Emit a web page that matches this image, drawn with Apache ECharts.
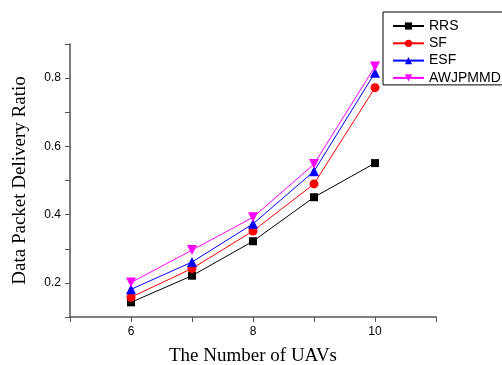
<!DOCTYPE html>
<html><head><meta charset="utf-8">
<script src="https://cdn.jsdelivr.net/npm/echarts@6/dist/echarts.min.js"></script>
<style>html,body{margin:0;padding:0;background:#fff}#c{width:502px;height:365px}</style>
</head><body><div id="c"></div>
<script>
const uavs = [6, 7, 8, 9, 10];
const rrs = [0.143, 0.221, 0.322, 0.451, 0.551];
const sf = [0.158, 0.242, 0.352, 0.490, 0.772];
const esf = [0.181, 0.261, 0.373, 0.527, 0.816];
const awjpmmd = [0.201, 0.296, 0.392, 0.548, 0.834];
const seriesNames = ['RRS', 'SF', 'ESF', 'AWJPMMD'];
const xLabels = [6, 8, 10];
const yLabels = [0.2, 0.4, 0.6, 0.8];

const pair = arr => uavs.map((x, i) => [x, arr[i]]);
const chart = echarts.init(document.getElementById('c'), null, {renderer: 'canvas'});
const axisColor = '#555';
function mk(name, data, color, symbol, size, rot) {
  return {name, type: 'line', data: pair(data), symbol, symbolSize: size, symbolRotate: rot || 0,
    lineStyle: {color, width: 1}, itemStyle: {color}, showSymbol: true, animation: false};
}
chart.setOption({
  animation: false,
  grid: {left: 70, top: 44, right: 66, bottom: 48, containLabel: false, outerBoundsMode: 'none'},
  legend: {
    orient: 'vertical', left: 383, top: 12, padding: [7, 2, 0, 9],
    borderColor: '#000', borderWidth: 1, itemWidth: 31, itemHeight: 9, itemGap: 3.3,
    textStyle: {fontFamily: 'Liberation Sans, Arial', fontSize: 14, color: '#000', lineHeight: 14},
    data: seriesNames
  },
  xAxis: {
    type: 'value', min: 5, max: 11, interval: 1,
    name: 'The Number of UAVs', nameLocation: 'middle', nameGap: 30,
    nameTextStyle: {fontFamily: 'Liberation Serif, Times New Roman', fontSize: 19, color: '#000'},
    axisLine: {lineStyle: {color: axisColor, width: 1.5}},
    axisTick: {show: true, length: 5, inside: false, lineStyle: {color: axisColor}},
    splitLine: {show: false},
    axisLabel: {fontFamily: 'Liberation Sans, Arial', fontSize: 12, color: '#000', margin: 9,
      formatter: v => xLabels.includes(Math.round(v)) ? String(Math.round(v)) : ''}
  },
  yAxis: {
    type: 'value', min: 0.1, max: 0.9, interval: 0.1,
    name: 'Data Packet Delivery Ratio', nameLocation: 'middle', nameGap: 40,
    nameTextStyle: {fontFamily: 'Liberation Serif, Times New Roman', fontSize: 19, color: '#000'},
    axisLine: {show: true, lineStyle: {color: axisColor, width: 1.5}},
    axisTick: {show: true, length: 5, inside: false, lineStyle: {color: axisColor}},
    splitLine: {show: false},
    axisLabel: {fontFamily: 'Liberation Sans, Arial', fontSize: 12, color: '#000', margin: 9,
      formatter: v => { const r = Math.round(v * 10) / 10; return yLabels.some(t => Math.abs(t - r) < 1e-9) ? r.toFixed(1) : ''; }}
  },
  series: [
    mk('RRS', rrs, '#000000', 'rect', 8),
    mk('SF', sf, '#ff0000', 'circle', 9),
    mk('ESF', esf, '#0000ff', 'triangle', 10),
    mk('AWJPMMD', awjpmmd, '#ff00ff', 'triangle', 10, 180)
  ]
});
</script></body></html>
